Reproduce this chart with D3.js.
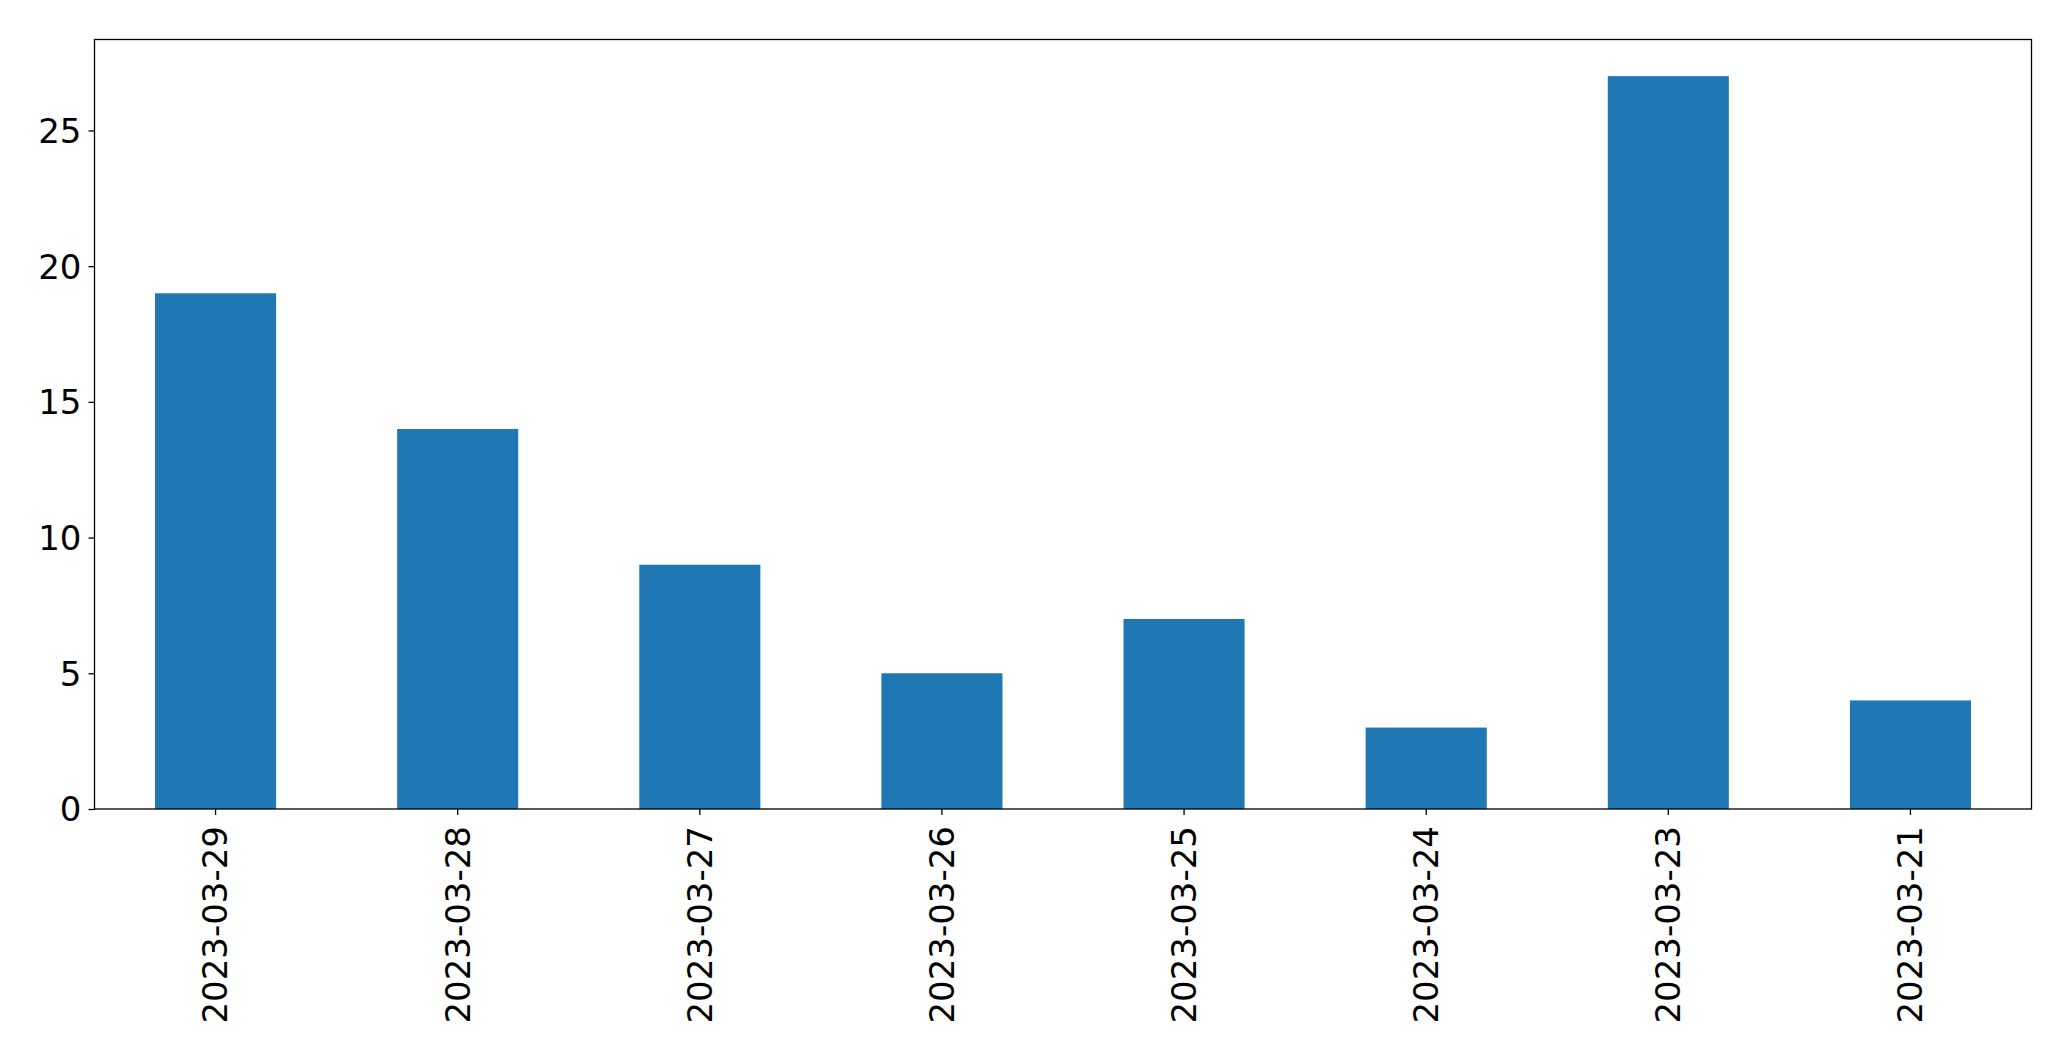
<!DOCTYPE html>
<html><head><meta charset="utf-8">
<script src="https://cdn.jsdelivr.net/npm/d3@7"></script>
<style>body{margin:0;background:#fff;}svg{display:block;}text{font-family:"DejaVu Sans",sans-serif;fill:#000;}</style>
</head><body>
<script>
const categories = ["2023-03-29","2023-03-28","2023-03-27","2023-03-26","2023-03-25","2023-03-24","2023-03-23","2023-03-21"];
const values = [19,14,9,5,7,3,27,4];
const yTicks = [0,5,10,15,20,25];

const W = 2071, H = 1061;
const m = {left:94.5, right:2071-2031.5, top:39.5, bottom:1061-809};
const svg = d3.select("body").append("svg").attr("width",W).attr("height",H);
const iw = W-m.left-m.right, ih = H-m.top-m.bottom;
const g = svg.append("g").attr("transform",`translate(${m.left},${m.top})`);

const x = d3.scaleBand().domain(categories).range([0,iw]).paddingInner(0.5).paddingOuter(0.25);
const y = d3.scaleLinear().domain([0, d3.max(values)*1.05]).range([ih,0]);

g.selectAll("rect.bar").data(values).join("rect").attr("class","bar")
  .attr("x",(d,i)=>x(categories[i])).attr("width",x.bandwidth())
  .attr("y",d=>y(d)).attr("height",d=>y(0)-y(d)).attr("fill","#1f77b4");

const fs = 34;
const yAxis = g.append("g").call(d3.axisLeft(y).tickValues(yTicks).tickFormat(d3.format("d")).tickSize(6).tickPadding(7));
yAxis.select(".domain").remove();
yAxis.selectAll("line").attr("stroke","#000").attr("stroke-width",1.3);
yAxis.selectAll("text").attr("font-size",fs).attr("dy","0.35em");

const xAxis = g.append("g").attr("transform",`translate(0,${ih})`).call(d3.axisBottom(x).tickSize(6).tickPadding(0));
xAxis.select(".domain").remove();
xAxis.selectAll("line").attr("stroke","#000").attr("stroke-width",1.3);
xAxis.selectAll("text").attr("font-size",fs)
  .attr("transform","translate(0,17) rotate(-90)")
  .attr("text-anchor","end").attr("dy","0.35em").attr("x",0).attr("y",0);

g.append("rect").attr("x",0).attr("y",0).attr("width",iw).attr("height",ih)
  .attr("fill","none").attr("stroke","#000").attr("stroke-width",1.3);
</script>
</body></html>
